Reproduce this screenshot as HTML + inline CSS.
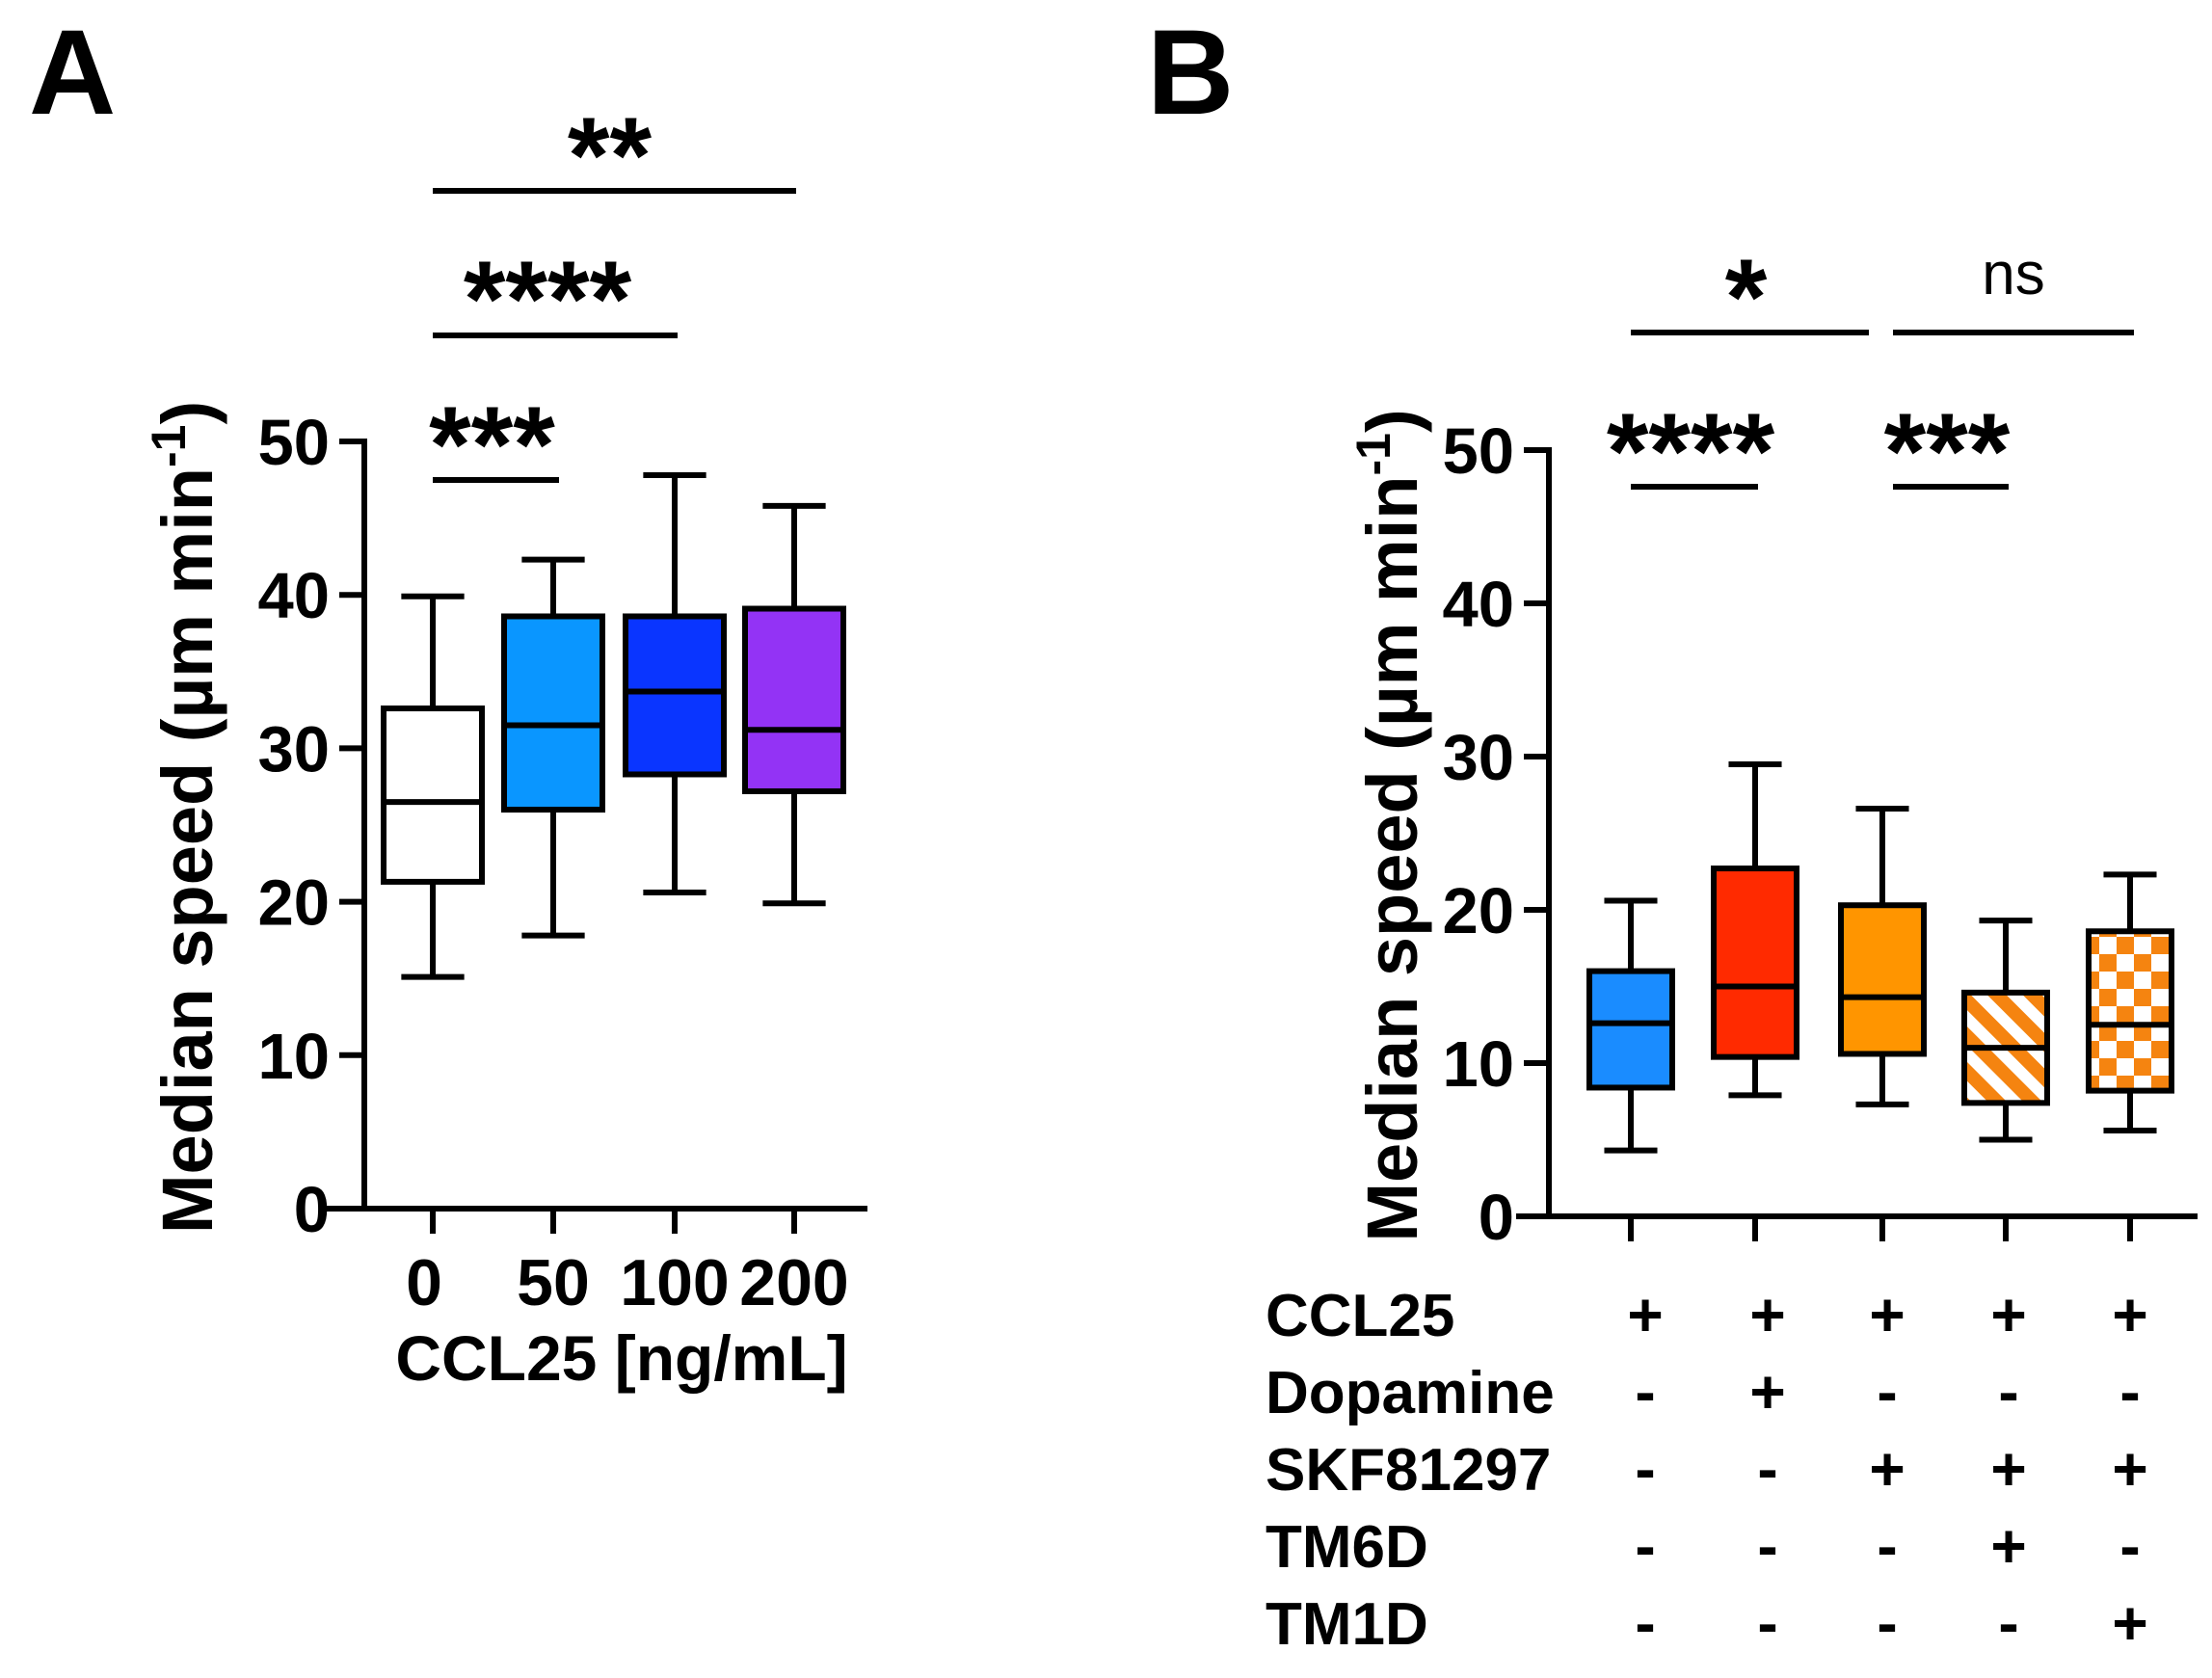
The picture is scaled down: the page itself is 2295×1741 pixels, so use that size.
<!DOCTYPE html>
<html><head><meta charset="utf-8"><style>
html,body{margin:0;padding:0;background:#fff;}
svg{display:block;font-family:"Liberation Sans",Arial,sans-serif;font-weight:bold;}
</style></head><body>
<svg id="chart" width="2295" height="1741" viewBox="0 0 2295 1741" xmlns="http://www.w3.org/2000/svg">
<defs>
<pattern id="stripes" patternUnits="userSpaceOnUse" width="26" height="26" patternTransform="rotate(-45)">
<rect width="26" height="26" fill="#fff"/><rect width="14" height="26" fill="#f58410"/>
</pattern>
<pattern id="checker" patternUnits="userSpaceOnUse" width="36" height="36">
<rect width="36" height="36" fill="#fff"/><rect width="18" height="18" fill="#f58410"/><rect x="18" y="18" width="18" height="18" fill="#f58410"/>
</pattern>
</defs>
<text x="30" y="118" font-size="125">A</text>
<text x="1190" y="118" font-size="125">B</text>
<g id="gA"></g>
<g id="gB"></g>
</svg>
<script>
const NS="http://www.w3.org/2000/svg";
const catsA=["0","50","100","200"];
const minA=[15.1,17.8,20.6,19.9];
const q1A=[21.3,26.0,28.3,27.2];
const medA=[26.5,31.5,33.7,31.2];
const q3A=[32.6,38.6,38.6,39.1];
const maxA=[39.9,42.3,47.8,45.8];
const colA=["#ffffff","#0a96ff","#0a35ff","#9333f5"];
const ticksA=[0,10,20,30,40,50];

const catsB=["g1","g2","g3","g4","g5"];
const minB=[4.3,7.9,7.3,5.0,5.6];
const q1B=[8.4,10.4,10.6,7.4,8.2];
const medB=[12.6,15.0,14.3,11.0,12.5];
const q3B=[16.0,22.7,20.3,14.6,18.6];
const maxB=[20.6,29.5,26.6,19.3,22.3];
const colB=["#1a8cff","#ff2a00","#ff9500","url(#stripes)","url(#checker)"];
const ticksB=[0,10,20,30,40,50];
const rowLabels=["CCL25","Dopamine","SKF81297","TM6D","TM1D"];
const rowSigns=[["+","+","+","+","+"],["-","+","-","-","-"],["-","-","+","+","+"],["-","-","-","+","-"],["-","-","-","-","+"]];

function mk(g,tag,attrs,txt){const e=document.createElementNS(NS,tag);for(const k in attrs)e.setAttribute(k,attrs[k]);if(txt!==undefined)e.textContent=txt;g.appendChild(e);return e;}
const SW=6;

function panel(g,cfg){
  const y=v=>cfg.y0+(cfg.y50-cfg.y0)*v/50;
  const x=i=>cfg.xs[i];
  let e=mk(g,"line",{x1:cfg.ax,y1:y(0),x2:cfg.ax,y2:y(50)-3,stroke:"#000","stroke-width":SW});
  
  
  e=mk(g,"line",{x1:cfg.xl,y1:y(0),x2:cfg.xr,y2:y(0),stroke:"#000","stroke-width":SW});
  
  
  cfg.ticks.forEach(t=>{
    e=mk(g,"line",{x1:cfg.ax-26,y1:y(t),x2:cfg.ax,y2:y(t),stroke:"#000","stroke-width":SW});
    
    
    e=mk(g,"text",{x:cfg.ax-36,y:y(t)+24,"font-size":67,"text-anchor":"end"},String(t));
    
    
  });
  e=mk(g,"text",{transform:`translate(${cfg.ylx},${(y(0)+y(50))/2-8}) rotate(-90)`,"font-size":74,"text-anchor":"middle"});
  
  
  e.innerHTML='Median speed (µm min<tspan dy="-28" font-size="50">-1</tspan><tspan dy="28">)</tspan>';
  const bw=cfg.bw;
  cfg.q1.forEach((_,i)=>{
    e=mk(g,"line",{x1:x(i),y1:y(0),x2:x(i),y2:y(0)+26,stroke:"#000","stroke-width":SW});
    
    
    const b=document.createElementNS(NS,"g");g.appendChild(b);
    
    
    mk(b,"line",{x1:x(i),y1:y(cfg.min[i]),x2:x(i),y2:y(cfg.max[i]),stroke:"#000","stroke-width":SW});
    mk(b,"line",{x1:x(i)-bw*0.32,y1:y(cfg.min[i]),x2:x(i)+bw*0.32,y2:y(cfg.min[i]),stroke:"#000","stroke-width":SW});
    mk(b,"line",{x1:x(i)-bw*0.32,y1:y(cfg.max[i]),x2:x(i)+bw*0.32,y2:y(cfg.max[i]),stroke:"#000","stroke-width":SW});
    mk(b,"rect",{x:x(i)-bw/2,y:y(cfg.q3[i]),width:bw,height:y(cfg.q1[i])-y(cfg.q3[i]),fill:cfg.col[i],stroke:"#000","stroke-width":SW});
    mk(b,"line",{x1:x(i)-bw/2,y1:y(cfg.med[i]),x2:x(i)+bw/2,y2:y(cfg.med[i]),stroke:"#000","stroke-width":SW});
  });
  cfg.sig.forEach(s=>{
    e=mk(g,"line",{x1:s[0],y1:s[2],x2:s[1],y2:s[2],stroke:"#000","stroke-width":SW});
    
    
    const ns=s[3]==="ns";
    e=mk(g,"text",{x:(s[0]+s[1])/2+(s[4]||0),y:ns?s[2]-40:s[2]-s[5],"font-size":ns?62:112,"font-weight":ns?"normal":"bold","text-anchor":"middle"},s[3]);
    
    
  });
}
const gA=document.getElementById("gA");
panel(gA,{y0:1254,y50:458,ax:378,xl:337,xr:900,xs:[449,574,700,824],bw:102,ticks:ticksA,
  min:minA,q1:q1A,med:medA,q3:q3A,max:maxA,col:colA,ylx:220,
  sig:[[449,580,498,"***",-4,-2],[449,703,348,"****",-8,-1],[449,826,198,"**",-5,-2]]});
catsA.forEach((c,i)=>{
  const e=mk(gA,"text",{x:[440,574,700,824][i],y:1354,"font-size":68,"text-anchor":"middle"},c);
  
  
});
let t=mk(gA,"text",{x:645,y:1432,"font-size":66,"text-anchor":"middle"},"CCL25 [ng/mL]");



const gB=document.getElementById("gB");
panel(gB,{y0:1262,y50:467,ax:1607,xl:1573,xr:2280,xs:[1692,1821,1953,2081,2210],bw:86,ticks:ticksB,
  min:minB,q1:q1B,med:medB,q3:q3B,max:maxB,col:colB,ylx:1470,
  sig:[[1692,1824,505,"****",-4,-2],[1964,2084,505,"***",-4,-2],[1692,1939,345,"*",-4,-2],[1964,2214,345,"ns",0,0]]});
const rowY=[1386,1466,1546,1626,1706];
const colX=[1707,1834,1958,2084,2210];
rowLabels.forEach((r,j)=>{
  let e=mk(gB,"text",{x:1313,y:rowY[j],"font-size":62},r);
  
  
  rowSigns[j].forEach((s,i)=>{
    e=mk(gB,"text",{x:colX[i],y:rowY[j],"font-size":64,"text-anchor":"middle"},s);
    
    
  });
});
</script>
</body></html>
